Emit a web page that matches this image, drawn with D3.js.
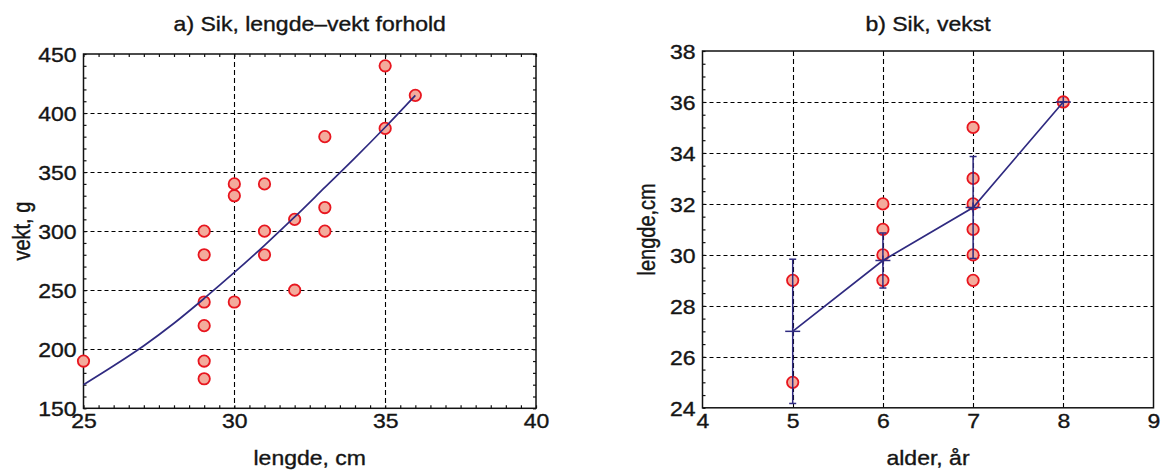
<!DOCTYPE html>
<html>
<head>
<meta charset="utf-8">
<script src="https://cdn.jsdelivr.net/npm/d3@7"></script>
<style>
  html, body { margin: 0; padding: 0; background: #fff; }
  svg { display: block; }
  text { font-family: "Liberation Sans", Arial, Helvetica, sans-serif; fill: #151515; stroke: #151515; stroke-width: 0.35px; }
</style>
</head>
<body>
<svg id="chart" width="1163" height="471"></svg>
<script>
// ---------- Data (panel a) ----------
const lengthA = [25, 29, 29, 29, 29, 29, 29, 30, 30, 30, 31, 31, 31, 32, 32, 33, 33, 33, 35, 35, 36];
const weightA = [190, 300, 280, 240, 220, 190, 175, 340, 330, 240, 340, 300, 280, 310, 250, 380, 320, 300, 440, 387, 415];
const fitLengthA = [25, 26, 27, 28, 29, 30, 31, 32, 33, 34, 35, 36];
const fitWeightA = [170, 186, 203, 222, 243, 265, 288, 312, 337, 362, 388, 415];
const xTicksA = [25, 30, 35, 40];
const yTicksA = [150, 200, 250, 300, 350, 400, 450];

// ---------- Data (panel b) ----------
const ageB = [5, 5, 6, 6, 6, 6, 7, 7, 7, 7, 7, 7, 8];
const lengthB = [29, 25, 32, 31, 30, 29, 35, 33, 32, 31, 30, 29, 36];
const meanAgeB = [5, 6, 7, 8];
const meanLengthB = [27, 29.78, 31.86, 36];
const sdLengthB = [2.83, 1.08, 2.0, 0];
const xTicksB = [4, 5, 6, 7, 8, 9];
const yTicksB = [24, 26, 28, 30, 32, 34, 36, 38];

// ---------- Styles ----------
const LINE = "#2f2a80";
const DOT_FILL = "#f3ab9c";
const DOT_STROKE = "#e8161f";
const FS = 20;
const SX = 1.15;

const svg = d3.select("#chart");

function panel(cfg) {
  const g = svg.append("g");
  const x = d3.scaleLinear().domain(cfg.xDomain).range(cfg.xRange);
  const y = d3.scaleLinear().domain(cfg.yDomain).range(cfg.yRange);
  const [x0, x1] = cfg.xRange;
  const [y0, y1] = cfg.yRange; // y0 bottom, y1 top

  // grid
  const gx = cfg.xTicks.filter(v => v > cfg.xDomain[0] && v < cfg.xDomain[1]);
  const gy = cfg.yTicks.filter(v => v > cfg.yDomain[0] && v < cfg.yDomain[1]);
  g.append("g").selectAll("line").data(gx).join("line")
    .attr("x1", d => Math.round(x(d)) + 0.5).attr("x2", d => Math.round(x(d)) + 0.5)
    .attr("y1", y1).attr("y2", y0)
    .attr("stroke", "#000").attr("stroke-width", 1.1)
    .attr("stroke-dasharray", "5,3");
  g.append("g").selectAll("line").data(gy).join("line")
    .attr("x1", x0).attr("x2", x1)
    .attr("y1", d => Math.round(y(d)) + 0.5).attr("y2", d => Math.round(y(d)) + 0.5)
    .attr("stroke", "#000").attr("stroke-width", 1.1)
    .attr("stroke-dasharray", "4,3");

  // minor ticks (inward)
  const minor = (sel) => sel.call(s => s.select(".domain").remove())
    .selectAll(".tick line").attr("stroke", "#111").attr("stroke-width", 1.2);
  if (cfg.minorX) {
    g.append("g").attr("transform", `translate(0,${y0})`)
      .call(d3.axisBottom(x).ticks(cfg.minorX).tickSize(-3).tickFormat(""))
      .call(minor);
    g.append("g").attr("transform", `translate(0,${y1})`)
      .call(d3.axisTop(x).ticks(cfg.minorX).tickSize(-3).tickFormat(""))
      .call(minor);
  }
  if (cfg.minorY) {
    g.append("g").attr("transform", `translate(${x0},0)`)
      .call(d3.axisLeft(y).ticks(cfg.minorY).tickSize(-3).tickFormat(""))
      .call(minor);
    if (cfg.minorYRight) {
      g.append("g").attr("transform", `translate(${x1},0)`)
        .call(d3.axisRight(y).ticks(cfg.minorY).tickSize(-3).tickFormat(""))
        .call(minor);
    }
  }

  // tick labels via axes
  const ax = g.append("g").attr("transform", `translate(0,${y0})`)
    .call(d3.axisBottom(x).tickValues(cfg.xTicks).tickSize(0).tickFormat(d3.format("d")));
  ax.select(".domain").remove();
  ax.selectAll("text")
    .attr("y", 20).attr("dy", 0)
    .attr("font-size", FS)
    .attr("font-family", "Liberation Sans, Arial, sans-serif")
    .attr("fill", "#151515")
    .attr("transform", `scale(${SX},1)`);

  const ay = g.append("g").attr("transform", `translate(${x0},0)`)
    .call(d3.axisLeft(y).tickValues(cfg.yTicks).tickSize(0).tickFormat(d3.format("d")));
  ay.select(".domain").remove();
  ay.selectAll("text")
    .attr("x", -7 / SX).attr("dy", "0.36em")
    .attr("font-size", FS)
    .attr("font-family", "Liberation Sans, Arial, sans-serif")
    .attr("fill", "#151515")
    .attr("transform", `scale(${SX},1)`);

  // frame
  g.append("rect")
    .attr("x", x0).attr("y", y1)
    .attr("width", x1 - x0).attr("height", y0 - y1)
    .attr("fill", "none").attr("stroke", "#111").attr("stroke-width", 1.5);

  // titles
  const cx = (x0 + x1) / 2;
  g.append("text").attr("transform", `translate(${cx},31) scale(${SX},1)`)
    .attr("text-anchor", "middle").attr("font-size", FS).text(cfg.title);
  g.append("text").attr("transform", `translate(${cx},465) scale(${SX},1)`)
    .attr("text-anchor", "middle").attr("font-size", FS).text(cfg.xLabel);
  g.append("text").attr("transform", `translate(${cfg.yLabelX},${(y0 + y1) / 2}) rotate(-90) scale(1,${SX})`)
    .attr("text-anchor", "middle").attr("font-size", FS).text(cfg.yLabel);

  return { g, x, y };
}

// ---------- Panel a ----------
const A = panel({
  xDomain: [25, 40], xRange: [83.5, 536],
  yDomain: [150, 450], yRange: [408.3, 54],
  xTicks: xTicksA, yTicks: yTicksA,
  minorX: 30, minorY: 30, minorYRight: true,
  title: "a) Sik, lengde\u2013vekt forhold",
  xLabel: "lengde, cm", yLabel: "vekt, g", yLabelX: 30
});

A.g.append("g").selectAll("circle").data(lengthA.map((l, i) => [l, weightA[i]])).join("circle")
  .attr("cx", d => A.x(d[0])).attr("cy", d => A.y(d[1])).attr("r", 5.7)
  .attr("fill", DOT_FILL).attr("stroke", DOT_STROKE).attr("stroke-width", 1.8);

A.g.append("path")
  .datum(fitLengthA.map((l, i) => [l, fitWeightA[i]]))
  .attr("d", d3.line().x(d => A.x(d[0])).y(d => A.y(d[1])).curve(d3.curveMonotoneX))
  .attr("fill", "none").attr("stroke", LINE).attr("stroke-width", 1.7);

// ---------- Panel b ----------
const B = panel({
  xDomain: [4, 9], xRange: [702.5, 1153.5],
  yDomain: [24, 38], yRange: [407.8, 51],
  xTicks: xTicksB, yTicks: yTicksB,
  minorX: 0, minorY: 28, minorYRight: false,
  title: "b) Sik, vekst",
  xLabel: "alder, \u00e5r", yLabel: "lengde,cm", yLabelX: 655
});

B.g.append("g").selectAll("circle").data(ageB.map((a, i) => [a, lengthB[i]])).join("circle")
  .attr("cx", d => B.x(d[0])).attr("cy", d => B.y(d[1])).attr("r", 5.7)
  .attr("fill", DOT_FILL).attr("stroke", DOT_STROKE).attr("stroke-width", 1.8);

const meansB = meanAgeB.map((a, i) => ({ a, m: meanLengthB[i], s: sdLengthB[i] }));

B.g.append("path").datum(meansB)
  .attr("d", d3.line().x(d => B.x(d.a)).y(d => B.y(d.m)))
  .attr("fill", "none").attr("stroke", LINE).attr("stroke-width", 1.7);

const eb = B.g.append("g").attr("stroke", LINE).attr("stroke-width", 1.5);
eb.selectAll(".v").data(meansB).join("line")
  .attr("x1", d => B.x(d.a)).attr("x2", d => B.x(d.a))
  .attr("y1", d => B.y(d.m - d.s)).attr("y2", d => B.y(d.m + d.s));
eb.selectAll(".ct").data(meansB).join("line")
  .attr("x1", d => B.x(d.a) - 3.5).attr("x2", d => B.x(d.a) + 3.5)
  .attr("y1", d => B.y(d.m + d.s)).attr("y2", d => B.y(d.m + d.s));
eb.selectAll(".cb").data(meansB).join("line")
  .attr("x1", d => B.x(d.a) - 3.5).attr("x2", d => B.x(d.a) + 3.5)
  .attr("y1", d => B.y(d.m - d.s)).attr("y2", d => B.y(d.m - d.s));
// '+' markers at means
eb.selectAll(".ph").data(meansB).join("line")
  .attr("x1", d => B.x(d.a) - 7.5).attr("x2", d => B.x(d.a) + 7.5)
  .attr("y1", d => B.y(d.m)).attr("y2", d => B.y(d.m));
eb.selectAll(".pv").data(meansB).join("line")
  .attr("x1", d => B.x(d.a)).attr("x2", d => B.x(d.a))
  .attr("y1", d => B.y(d.m) - 5).attr("y2", d => B.y(d.m) + 5);
</script>
</body>
</html>
